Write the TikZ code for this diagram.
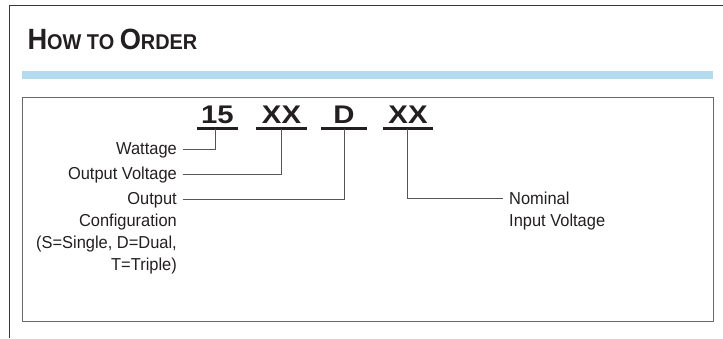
\documentclass[tikz,border=0pt]{standalone}
\usepackage{fontspec}
\setmainfont{Liberation Sans}[FakeStretch=0.95]
\newfontfamily\titlefont{Liberation Sans}[FakeStretch=0.93]
\newfontfamily\codefont{Liberation Sans}[FakeStretch=1.15]
\usetikzlibrary{positioning,calc}
\definecolor{barblue}{RGB}{180,218,238}
\definecolor{framegray}{RGB}{55,55,55}
\definecolor{boxgray}{RGB}{105,105,105}
\definecolor{linegray}{RGB}{85,85,85}
\definecolor{inkblack}{RGB}{35,31,32}
\newcommand{\titlebig}[1]{{\fontsize{29.3}{32}\selectfont #1}}
\newcommand{\titlesmall}[1]{{\fontsize{21.4}{24}\selectfont #1}}

\begin{document}
\begin{tikzpicture}[x=1pt,y=-1pt,
    codepart/.style={font=\codefont\bfseries\fontsize{25.5}{25.5}\selectfont, text=inkblack,
        anchor=south, inner sep=0pt, text depth=5.2pt},
    partlabel/.style={font=\fontsize{17.3}{22}\selectfont, text=inkblack, inner xsep=6pt, inner ysep=0pt},
    leader/.style={draw=linegray, line width=0.8pt},
    underbar/.style={draw=inkblack, line width=2.3pt}]
    \useasboundingbox (0,0) rectangle (723,338);
    \draw[framegray, line width=1pt] (9.5,338) -- (9.5,5.5) -- (723,5.5);
    \node[anchor=base west, inner sep=0pt, font=\titlefont\bfseries, text=inkblack] (title) at (27.3,49.3)
        {\titlebig{H}\titlesmall{OW TO }\titlebig{O}\titlesmall{RDER}};
    \fill[barblue] (22,71) rectangle (713,79);
    \draw[boxgray, line width=0.9pt] (22.5,97) rectangle (713.5,321);

    \node[codepart, minimum width=41pt] (p15) at (217.5,128.5) {15};
    \node[codepart, minimum width=51pt] (pvolt) at (281.5,128.5) {XX};
    \node[codepart, minimum width=46pt] (pconf) at (344,128.5) {D};
    \node[codepart, minimum width=50pt] (pin) at (408,128.5) {XX};
    \foreach \p in {p15,pvolt,pconf,pin}
        \draw[underbar] (\p.south west) -- (\p.south east);

    % multi-line labels sit on the baseline of their last line
    \node[partlabel, anchor=base east] (watt) at (183,154.8) {Wattage};
    \node[partlabel, anchor=base east] (outvolt) at (183,179.8) {Output Voltage};
    \node[partlabel, anchor=base east, align=right] (outconf) at (183,270.8)
        {Output\\Configuration\\(S=Single, D=Dual,\\T=Triple)};
    \node[partlabel, anchor=base west, align=left] (nominput) at (503,226.3)
        {Nominal\\Input Voltage};

    \draw[leader] ([xshift=-2pt]p15.south) |- ([yshift=5.5pt]watt.base east);
    \draw[leader] (pvolt.south) |- ([yshift=5.5pt]outvolt.base east);
    \draw[leader] (pconf.south) |- ([yshift=71.5pt]outconf.base east);
    \draw[leader] ([xshift=-1pt]pin.south) |- ([yshift=28pt]nominput.base west);
\end{tikzpicture}
\end{document}
